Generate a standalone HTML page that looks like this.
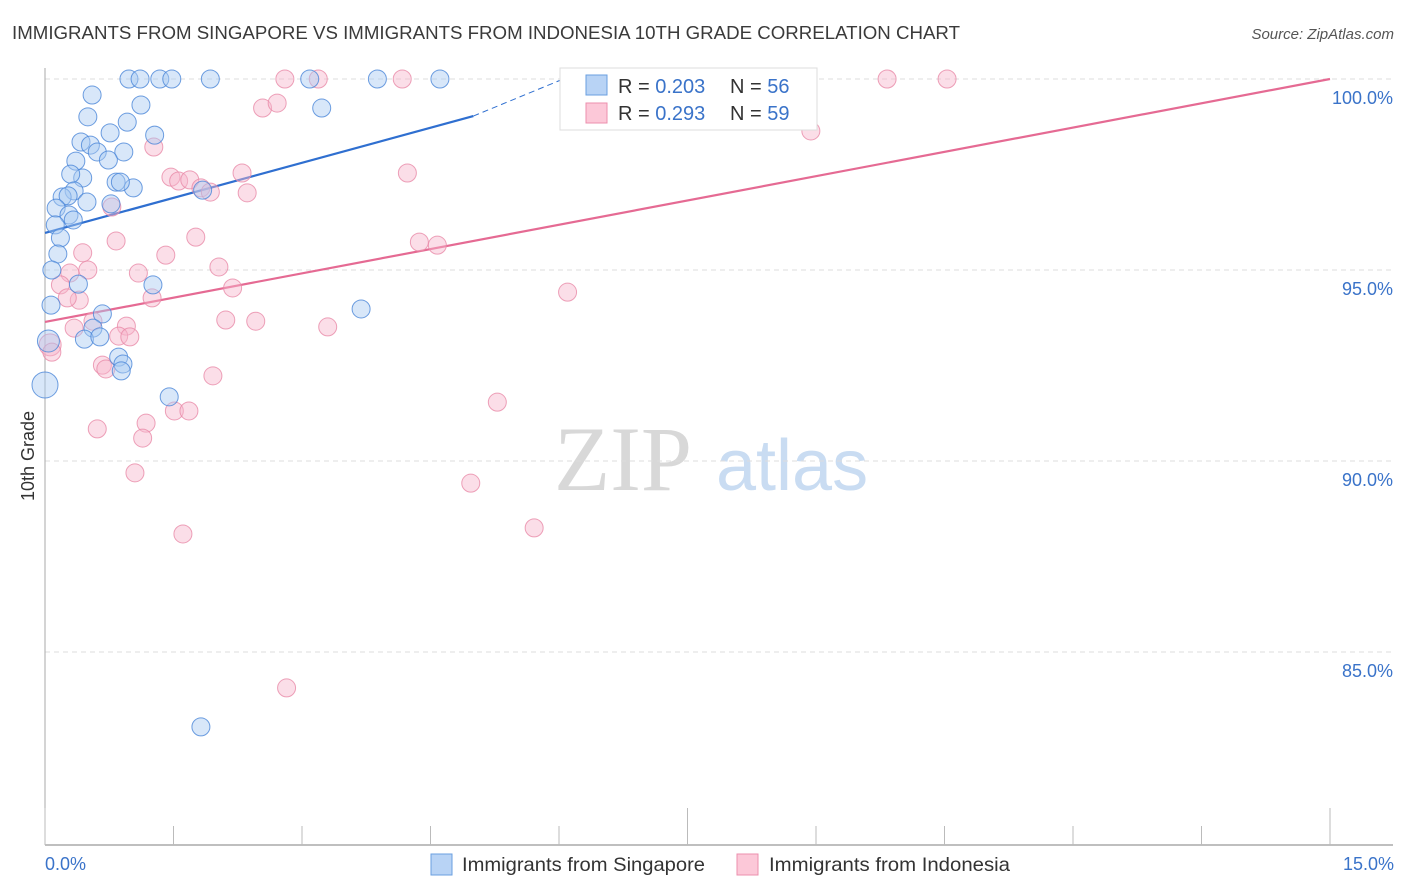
<!DOCTYPE html>
<html><head><meta charset="utf-8"><style>
html,body{margin:0;padding:0;background:#fff;width:1406px;height:892px;overflow:hidden;font-family:"Liberation Sans",sans-serif}
</style></head><body>
<svg id="chart" width="1406" height="892" xmlns="http://www.w3.org/2000/svg" style="position:absolute;left:0;top:0">
<text x="12" y="39" font-size="18" fill="#3a3a3a" textLength="948" lengthAdjust="spacingAndGlyphs">IMMIGRANTS FROM SINGAPORE VS IMMIGRANTS FROM INDONESIA 10TH GRADE CORRELATION CHART</text>
<text x="1394" y="39" font-size="15" fill="#555" font-style="italic" text-anchor="end">Source: ZipAtlas.com</text>
<g>
<text x="554" y="490" font-size="92" fill="#d8d8d8" font-family="Liberation Serif,serif">ZIP</text>
<text x="716" y="490" font-size="72" fill="#c9dcf2">atlas</text>
</g>
<g id="grid"></g>
<g id="axes"></g>
<g id="trend"></g>
<g id="pts"></g>
<text transform="translate(34,456) rotate(-90)" font-size="18" fill="#333" text-anchor="middle">10th Grade</text>
<g>
<rect x="560" y="68" width="257" height="62" fill="#fff" stroke="#ddd"/>
<rect x="586" y="75" width="21" height="20" fill="#b8d3f5" stroke="#6a9fe0"/>
<rect x="586" y="103" width="21" height="20" fill="#fcc8d8" stroke="#ec8fae"/>
<text x="618" y="93" font-size="20" fill="#333">R = <tspan fill="#3a73c9">0.203</tspan><tspan x="730">N = </tspan><tspan fill="#3a73c9">56</tspan></text>
<text x="618" y="120" font-size="20" fill="#333">R = <tspan fill="#3a73c9"> 0.293</tspan><tspan x="730">N = </tspan><tspan fill="#3a73c9">59</tspan></text>
</g>
<g>
<rect x="431" y="854" width="21" height="21" fill="#b8d3f5" stroke="#6a9fe0"/>
<text x="462" y="871" font-size="19.5" fill="#333" textLength="243" lengthAdjust="spacingAndGlyphs">Immigrants from Singapore</text>
<rect x="737" y="854" width="21" height="21" fill="#fcc8d8" stroke="#ec8fae"/>
<text x="769" y="871" font-size="19.5" fill="#333" textLength="241" lengthAdjust="spacingAndGlyphs">Immigrants from Indonesia</text>
</g>
</svg>
<script>
const blueX=[0.98,1.11,1.34,1.48,1.93,3.09,3.88,4.61,0.55,1.12,0.50,0.96,0.76,1.28,0.42,0.53,0.61,0.92,0.36,0.74,0.44,0.30,0.83,1.03,0.88,0.34,0.20,0.27,0.77,0.13,0.28,0.49,0.33,0.12,0.18,0.15,0.08,0.39,1.26,0.07,3.69,0.67,0.56,0.46,0.64,0.04,0.86,0.91,0.89,0,1.45,1.82,3.23,1.84];
const blueY=[100,100,100,100,100,100,100,100,99.58,99.32,99.01,98.87,98.59,98.53,98.35,98.27,98.09,98.09,97.85,97.88,97.41,97.51,97.30,97.15,97.30,97.07,96.91,96.94,96.73,96.62,96.44,96.78,96.31,96.18,95.84,95.42,95.00,94.63,94.61,94.08,93.98,93.85,93.48,93.19,93.25,93.14,92.72,92.54,92.36,91.99,91.68,83.04,99.24,97.09];
const pinkX=[2.80,3.19,4.17,9.83,10.53,2.54,2.71,8.94,1.27,1.47,1.56,1.69,2.30,1.82,1.93,2.36,4.23,0.78,0.83,1.76,4.37,4.58,0.44,1.41,0.50,1.09,2.03,0.29,0.18,2.19,1.25,0.40,0.26,6.10,2.11,2.46,3.30,0.95,0.56,0.34,0.86,0.99,0.06,0.08,0.67,0.71,1.96,5.28,1.18,1.51,1.68,0.61,1.14,4.97,1.05,5.71,1.61,2.82];
const pinkY=[100,100,100,100,100,99.24,99.37,98.64,98.22,97.43,97.33,97.36,97.54,97.15,97.04,97.02,97.54,96.65,95.76,95.86,95.73,95.65,95.45,95.39,95.00,94.92,95.08,94.92,94.61,94.53,94.27,94.21,94.27,94.42,93.69,93.66,93.51,93.53,93.66,93.48,93.27,93.25,93.04,92.85,92.51,92.41,92.23,91.54,90.99,91.31,91.31,90.84,90.60,89.42,89.69,88.25,88.09,84.06];
const yTicks=[100,95,90,85];
const yTickLabels=["100.0%","95.0%","90.0%","85.0%"];
const xTicks=[0,1.5,3,4.5,6,7.5,9,10.5,12,13.5,15];
const blueTrend=[95.97,99.03,100];const blueTrendX=[0,5,6.05];
const pinkTrend=[93.64,100];const pinkTrendX=[0,15];
const NS="http://www.w3.org/2000/svg";
const sx=v=>45+v*(1285/15), sy=v=>79+(100-v)*38.2;
function mk(tag,parent,attrs){const e=document.createElementNS(NS,tag);for(const k in attrs)e.setAttribute(k,attrs[k]);parent.appendChild(e);return e;}
const grid=document.getElementById('grid'),axes=document.getElementById('axes'),trend=document.getElementById('trend'),pts=document.getElementById('pts');
yTicks.forEach((t,i)=>{
 const l=mk('line',grid,{x1:45,x2:1393,y1:sy(t),y2:sy(t),stroke:'#ddd','stroke-dasharray':'5,4'});
 
 
 const tx=mk('text',grid,{x:1393,y:sy(t)+25,'font-size':18,fill:'#3a73c9','text-anchor':'end'});
 tx.textContent=yTickLabels[i];
 
 
});
const ya=mk('line',axes,{x1:45,x2:45,y1:68,y2:845,stroke:'#aaa'});


const xa=mk('line',axes,{x1:45,x2:1393,y1:845,y2:845,stroke:'#aaa','stroke-width':1.5});


xTicks.forEach((t,i)=>{
 const tall=(i===0||i===5||i===10);
 const tk=mk('line',axes,{x1:sx(t),x2:sx(t),y1:tall?808:826,y2:845,stroke:'#bbb'});
 
 
});
const xl0=mk('text',axes,{x:45,y:870,'font-size':18,fill:'#3a73c9'});xl0.textContent='0.0%';


const xl1=mk('text',axes,{x:1394,y:870,'font-size':18,fill:'#3a73c9','text-anchor':'end'});xl1.textContent='15.0%';


function dots(X,Y,fill,stroke,name){
 X.forEach((x,i)=>{
  const big=x<=0.06;
  const c=mk('circle',pts,{cx:sx(x),cy:sy(Y[i]),r:big?(x===0?13:11):9,fill:fill,'fill-opacity':0.45,stroke:stroke,'stroke-opacity':0.8,'stroke-width':1});
  
  
 });
}
dots(pinkX,pinkY,'#f7b6cb','#e889a8','point-indonesia');
dots(blueX,blueY,'#a9c9f2','#4a86d8','point-singapore');
const bt=mk('line',trend,{x1:sx(blueTrendX[0]),y1:sy(blueTrend[0]),x2:sx(blueTrendX[1]),y2:sy(blueTrend[1]),stroke:'#2f6fd0','stroke-width':2.2});


const btd=mk('line',trend,{x1:sx(blueTrendX[1]),y1:sy(blueTrend[1]),x2:sx(blueTrendX[2]),y2:sy(blueTrend[2]),stroke:'#2f6fd0','stroke-width':1,'stroke-dasharray':'6,4'});


const pt=mk('line',trend,{x1:sx(pinkTrendX[0]),y1:sy(pinkTrend[0]),x2:sx(pinkTrendX[1]),y2:sy(pinkTrend[1]),stroke:'#e56a93','stroke-width':2.2});


</script>
</body></html>
